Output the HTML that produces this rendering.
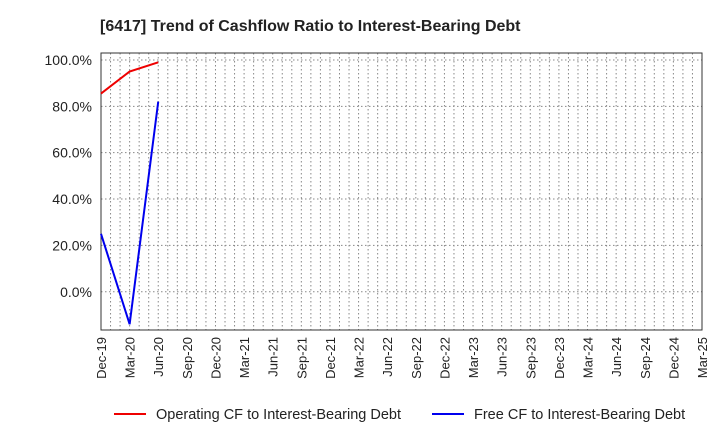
<!DOCTYPE html>
<html><head><meta charset="utf-8"><style>
body{margin:0;background:#fff;font-family:"Liberation Sans",sans-serif}
</style></head><body>
<svg id="c" width="720" height="440" xmlns="http://www.w3.org/2000/svg">
<text x="100" y="31" font-size="16" font-weight="bold" fill="#222">[6417]  Trend of Cashflow Ratio to Interest-Bearing Debt</text>
<g id="grid"></g><g id="axes"></g><g id="series"></g>
<g>
<line x1="114" y1="414" x2="146" y2="414" stroke="#e00" stroke-width="2"/>
<text x="156" y="419" font-size="14.5" fill="#222">Operating CF to Interest-Bearing Debt</text>
<line x1="432" y1="414" x2="464" y2="414" stroke="#00e" stroke-width="2"/>
<text x="474" y="419" font-size="14.5" fill="#222">Free CF to Interest-Bearing Debt</text>
</g>
</svg>
<script>
const categories=["Dec-19","Mar-20","Jun-20","Sep-20","Dec-20","Mar-21","Jun-21","Sep-21","Dec-21","Mar-22","Jun-22","Sep-22","Dec-22","Mar-23","Jun-23","Sep-23","Dec-23","Mar-24","Jun-24","Sep-24","Dec-24","Mar-25"];
const operatingCF=[85.5,95,99];
const freeCF=[25,-14,82];
const yTicks=[0,20,40,60,80,100];
const L=101,R=702,T=53,B=330;
const yMin=-16.5,yMax=103;
const NS="http://www.w3.org/2000/svg";
const xs=i=>L+(R-L)*i/(categories.length-1);
const ys=v=>B-(v-yMin)/(yMax-yMin)*(B-T);
function mk(t,a,p){const e=document.createElementNS(NS,t);for(const k in a)e.setAttribute(k,a[k]);p.appendChild(e);return e;}
const g=document.getElementById('grid'),ax=document.getElementById('axes'),s=document.getElementById('series');
const nMonths=(categories.length-1)*3;
for(let m=1;m<nMonths;m++){const x=L+(R-L)*m/nMonths;
const l=mk('line',{x1:x,y1:T,x2:x,y2:B,stroke:'#888','stroke-dasharray':'1.5,2.5'},g);

}
yTicks.forEach(v=>{const y=ys(v);
const l=mk('line',{x1:L,y1:y,x2:R,y2:y,stroke:'#888','stroke-dasharray':'1.5,2.5'},g);


const t=mk('text',{x:L-9,y:y+5,'font-size':14,fill:'#222','text-anchor':'end'},ax);t.textContent=v.toFixed(1)+'%';

});
const r=mk('rect',{x:L,y:T,width:R-L,height:B-T,fill:'none',stroke:'#333','stroke-width':1},ax);


categories.forEach((c,i)=>{const x=xs(i);
const t=mk('text',{x:x+5,y:B+7,'font-size':13,fill:'#222','text-anchor':'end',transform:`rotate(-90 ${x+5} ${B+7})`},ax);t.textContent=c;

});
function line(d,col,name){const p=mk('polyline',{points:d.map((v,i)=>xs(i)+','+ys(v)).join(' '),fill:'none',stroke:col,'stroke-width':2},s);

}
line(operatingCF,'#e00','operating-cf-line');
line(freeCF,'#00e','free-cf-line');
</script>
</body></html>
